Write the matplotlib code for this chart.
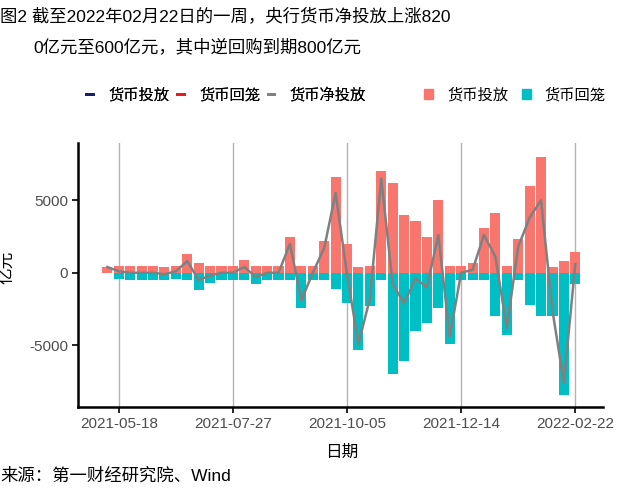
import numpy as np
import pandas as pd
import matplotlib
matplotlib.use("Agg")
import matplotlib.pyplot as plt
import matplotlib.dates as mdates
from matplotlib.lines import Line2D
from matplotlib.patches import Patch

plt.rcParams['font.family'] = ['Liberation Sans', 'Noto Sans CJK SC', 'DejaVu Sans']
plt.rcParams['font.weight'] = 350
plt.rcParams['axes.unicode_minus'] = False

# weekly data, 2021-05-11 .. 2022-02-22 (亿元)
weeks = pd.date_range("2021-05-11", "2022-02-22", freq="7D")
put_in = [400, 500, 500, 500, 500, 400, 500, 1300, 700, 500,
          500, 500, 900, 500, 500, 500, 2500, 500, 500, 2200,
          6600, 2000, 400, 500, 7000, 6200, 4000, 3600, 2500, 5000,
          500, 500, 700, 3100, 4100, 500, 2300, 6000, 8000, 400,
          800, 1400]
withdraw = [0, 400, 500, 500, 500, 500, 400, 500, 1200, 700,
            500, 500, 500, 800, 500, 500, 500, 2400, 500, 500,
            1100, 2100, 5300, 2300, 500, 7000, 6100, 4000, 3500, 2400,
            4900, 500, 500, 500, 3000, 4300, 500, 2200, 3000, 3000,
            8400, 800]
put_in = np.array(put_in)
withdraw = -np.array(withdraw)
net = put_in + withdraw

xticks = pd.to_datetime(["2021-05-18", "2021-07-27", "2021-10-05", "2021-12-14", "2022-02-22"])
yticks = [-5000, 0, 5000]

red = '#F8766D'
teal = '#00BFC4'

fig = plt.figure(figsize=(6.4, 4.98), dpi=100)
ax = fig.add_axes([78/640, 1-407/498, (603-78)/640, (407-143)/498])

ax.bar(weeks, put_in, width=6.2, color=red, zorder=2)
ax.bar(weeks, withdraw, width=6.2, color=teal, zorder=2)
ax.plot(weeks, net, color='#808080', lw=1.8, zorder=3)

ax.set_xlim(pd.Timestamp("2021-04-23"), pd.Timestamp("2022-03-11"))
ax.set_ylim(-9260, 8950)
ax.set_xticks(xticks)
ax.xaxis.set_major_formatter(mdates.DateFormatter("%Y-%m-%d"))
ax.set_yticks(yticks)
ax.grid(axis='x', color='#B3B3B3', lw=1, zorder=0)
ax.grid(axis='y', visible=False)

for s in ['top', 'right']:
    ax.spines[s].set_visible(False)
for s in ['left', 'bottom']:
    ax.spines[s].set_linewidth(1.8)
    ax.spines[s].set_color('black')
ax.tick_params(axis='both', length=4, width=1.2, color='black',
               labelsize=11, labelcolor='#4D4D4D', pad=3)

fig.text(342/640, 1-452/498, '日期', ha='center', va='center', fontsize=12)
fig.text(8/640, 1-267/498, '亿元', ha='center', va='center', rotation=90, fontsize=12)

fig.text(0, 1-16/498, '图2 截至2022年02月22日的一周，央行货币净投放上涨820',
         ha='left', va='center', fontsize=12.5)
fig.text(33/640, 1-47/498, '0亿元至600亿元，其中逆回购到期800亿元',
         ha='left', va='center', fontsize=12.5)
fig.text(0, 1-476/498, '来源：第一财经研究院、Wind', ha='left', va='center', fontsize=12.5)

line_handles = [Line2D([], [], color='#191970', lw=2),
                Line2D([], [], color='#E41A1C', lw=2),
                Line2D([], [], color='#808080', lw=2)]
line_labels = ['货币投放', '货币回笼', '货币净投放']
bar_handles = [Patch(color=red), Patch(color=teal)]
bar_labels = ['货币投放', '货币回笼']

leg1 = fig.legend(line_handles, line_labels, loc='center left',
                  bbox_to_anchor=(86/640, 1-95/498), ncol=3, frameon=False,
                  prop={'size': 11, 'weight': 300}, handlelength=0.45,
                  handletextpad=1.0, columnspacing=0.5, borderpad=0, borderaxespad=0)
leg2 = fig.legend(bar_handles, bar_labels, loc='center left',
                  bbox_to_anchor=(424/640, 1-95/498), ncol=2, frameon=False,
                  prop={'size': 11, 'weight': 300}, handlelength=0.6, handleheight=0.6,
                  handletextpad=0.9, columnspacing=0.9, borderpad=0, borderaxespad=0)
fig.add_artist(leg1)

fig.savefig("out.png", dpi=100)
